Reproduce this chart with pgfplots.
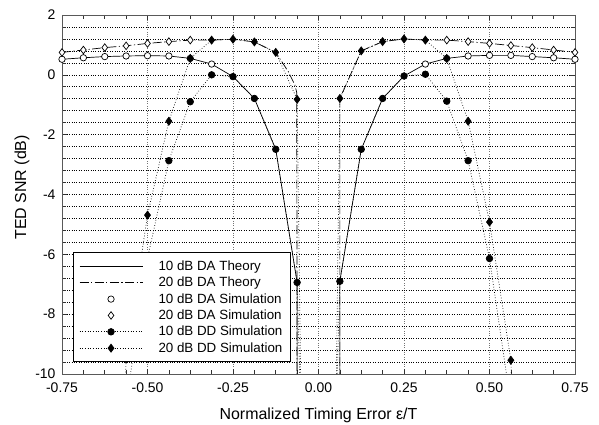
\documentclass[border=0pt]{standalone}
\usepackage{fontspec}
\setmainfont{Liberation Sans}
\usepackage{pgfplots}
\pgfplotsset{compat=1.18}

\begin{document}
\begin{tikzpicture}
\begin{axis}[
    scale only axis,
    width=513bp, height=359bp,
    xmin=-0.75, xmax=0.75,
    ymin=-10, ymax=2,
    xtick={-0.75,-0.5,-0.25,0,0.25,0.5,0.75},
    ytick={-10,-8,-6,-4,-2,0,2},
    minor x tick num=3,
    minor y tick num=4,
    xmajorgrids, ymajorgrids, yminorgrids,
    x grid style={dotted, black!55, line width=0.6bp},
    y grid style={dotted, black, line width=0.6bp},
    tick align=inside,
    major tick length=5bp, minor tick length=4bp,
    tick style={black!80, line width=0.6bp},
    axis line style={black!65, line width=0.9bp},
    /pgf/number format/assume math mode=true,
    ticklabel style={font=\fontsize{14}{16}\selectfont},
    xticklabel style={yshift=-5bp, /pgf/number format/fixed, /pgf/number format/fixed zerofill,
        /pgf/number format/precision=2},
    yticklabel style={xshift=-3bp},
    xlabel={Normalized Timing Error ε/T},
    ylabel={TED SNR (dB)},
    label style={font=\fontsize{16}{18}\selectfont},
    xlabel style={at={(axis description cs:0.5,-0.114)}, anchor=center},
    ylabel style={at={(axis description cs:-0.078,0.52)}, anchor=center},
    legend image code/.code={\draw[mark repeat=2,mark phase=2,#1]
        plot coordinates {(0bp,0bp) (31.5bp,0bp) (63bp,0bp)};
        \path[draw=none, fill=none] (0bp,0bp) -- (77bp,0bp);},
    legend style={at={(rel axis cs:0.021,0.033)}, anchor=south west,
        draw=black, line width=0.8bp, fill=white,
        font=\fontsize{13.4}{15}\selectfont, row sep=1.2bp,
        inner xsep=6bp, inner ysep=6bp},
    legend cell align=left,
]

% 10 dB DA theory
\addplot[black, line width=0.7bp] coordinates {
    (-0.75,0.52) (-0.6875,0.57) (-0.625,0.61) (-0.5625,0.63) (-0.5,0.64)
    (-0.4375,0.63) (-0.375,0.55) (-0.3125,0.36) (-0.25,-0.06) (-0.1875,-0.79)
    (-0.125,-2.49) (-0.0625,-6.94) (-0.0625,-12)
    (0.0625,-12) (0.0625,-6.90) (0.125,-2.49) (0.1875,-0.79) (0.25,-0.04)
    (0.3125,0.36) (0.375,0.55) (0.4375,0.63) (0.5,0.65) (0.5625,0.65)
    (0.625,0.61) (0.6875,0.57) (0.75,0.52)
};
\addlegendentry{10 dB DA Theory}

% 20 dB DA theory
\addplot[black, line width=0.7bp, dash pattern=on 9bp off 2.5bp on 1.2bp off 2.5bp] coordinates {
    (-0.75,0.75) (-0.6875,0.83) (-0.625,0.91) (-0.5625,0.97) (-0.5,1.05)
    (-0.4375,1.11) (-0.375,1.16) (-0.3125,1.16) (-0.25,1.19) (-0.1875,1.10)
    (-0.125,0.75) (-0.088,0.10) (-0.069,-0.34) (-0.0635,-0.60) (-0.0625,-12)
    (0.0625,-12) (0.0625,-0.79) (0.125,0.80) (0.1875,1.11) (0.25,1.20)
    (0.3125,1.16) (0.375,1.16) (0.4375,1.11) (0.5,1.05) (0.5625,0.98)
    (0.625,0.91) (0.6875,0.83) (0.75,0.75)
};
\addlegendentry{20 dB DA Theory}

% 10 dB DA simulation
\addplot[only marks, mark=*, mark size=3.2bp, mark options={fill=white, draw=black, line width=0.7bp}] coordinates {
    (-0.75,0.52) (-0.6875,0.57) (-0.625,0.61) (-0.5625,0.63) (-0.5,0.64)
    (-0.4375,0.63) (-0.375,0.55) (-0.3125,0.36)
    (0.3125,0.36) (0.375,0.55) (0.4375,0.63) (0.5,0.65) (0.5625,0.65)
    (0.625,0.61) (0.6875,0.57) (0.75,0.52)
};
\addlegendentry{10 dB DA Simulation}

% 20 dB DA simulation
\addplot[only marks, mark=diamond*, mark size=3.8bp, mark options={fill=white, draw=black, line width=0.7bp}] coordinates {
    (-0.75,0.75) (-0.6875,0.83) (-0.625,0.91) (-0.5625,0.97) (-0.5,1.05)
    (-0.4375,1.11) (-0.375,1.16)
    (0.375,1.16) (0.4375,1.11) (0.5,1.05) (0.5625,0.98)
    (0.625,0.91) (0.6875,0.83) (0.75,0.75)
};
\addlegendentry{20 dB DA Simulation}

% 10 dB DD simulation
\addplot[black, dotted, line width=0.7bp, mark=*, mark size=3.3bp, mark options={solid, fill=black}] coordinates {
    (-0.5625,-11.0) (-0.5,-6.14) (-0.4375,-2.87) (-0.375,-0.90) (-0.3125,0.00)
    (-0.25,-0.06) (-0.1875,-0.79) (-0.125,-2.49) (-0.0625,-6.94) (-0.05,-12)
    (0.05,-12) (0.0625,-6.90) (0.125,-2.49) (0.1875,-0.79) (0.25,-0.04)
    (0.3125,0.02) (0.375,-0.88) (0.4375,-2.87) (0.5,-6.14) (0.5625,-11.0)
};
\addlegendentry{10 dB DD Simulation}

% 20 dB DD simulation
\addplot[black, dotted, line width=0.7bp, mark=diamond*, mark size=4bp, mark options={solid, fill=black}] coordinates {
    (-0.625,-30) (-0.5625,-9.50) (-0.5,-4.69) (-0.4375,-1.55) (-0.375,0.55)
    (-0.3125,1.16) (-0.25,1.19) (-0.1875,1.10) (-0.125,0.75) (-0.0625,-0.82)
    (-0.05,-12)
    (0.05,-12) (0.0625,-0.79) (0.125,0.80) (0.1875,1.11) (0.25,1.20)
    (0.3125,1.16) (0.375,0.55) (0.4375,-1.55) (0.5,-4.92) (0.5625,-9.54)
    (0.625,-30)
};
\addlegendentry{20 dB DD Simulation}

\end{axis}
\pgfresetboundingbox
\path ([shift={(-62bp,-50bp)}]current axis.south west) rectangle
      ([shift={(24bp,15bp)}]current axis.north east);
\end{tikzpicture}
\end{document}
